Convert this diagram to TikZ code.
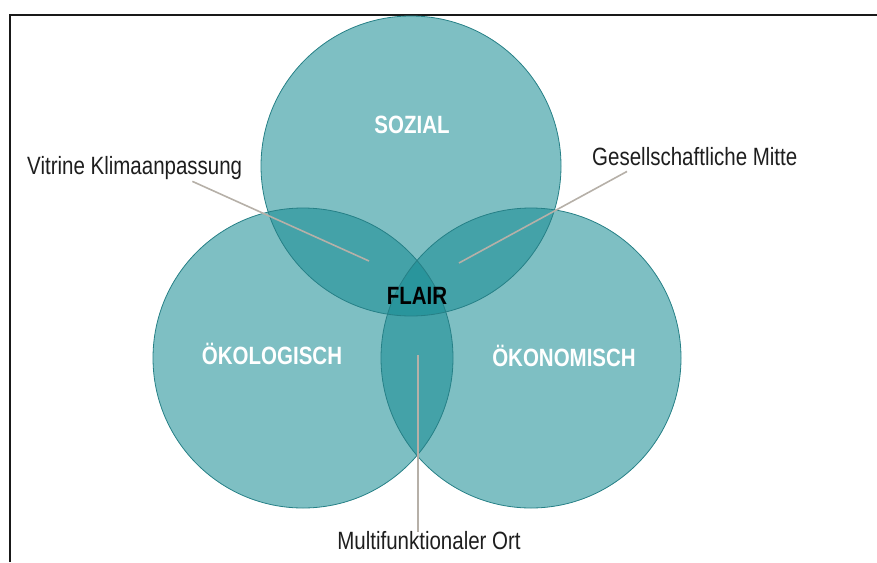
\documentclass[tikz,border=0pt]{standalone}
\usepackage{fontspec}
\setmainfont{Liberation Sans}[FakeStretch=0.82]
\usetikzlibrary{positioning}
\definecolor{vennteal}{RGB}{20,138,146}
\definecolor{vennedge}{RGB}{38,128,134}
\definecolor{leader}{RGB}{182,176,168}
\definecolor{labeltext}{RGB}{30,30,30}

\begin{document}
\begin{tikzpicture}[
    x=1pt, y=-1pt,
    ring/.style={fill=vennteal, fill opacity=0.55},
    ringedge/.style={draw=vennedge, line width=0.8pt},
    pillar/.style={font=\fontsize{25}{25}\selectfont\bfseries, text=white, inner sep=0pt, anchor=base},
    tag/.style={font=\fontsize{25}{25}\selectfont, text=labeltext, inner sep=0pt},
    pointer/.style={draw=leader, line width=1.6pt}
]
\useasboundingbox (0,0) rectangle (877,562);

% frame
\draw[line width=2pt, black!90] (10,562) -- (10,15) -- (877,15);

% circle centres
\coordinate (sozc) at (411,166);
\coordinate (oekoc) at (303,358);
\coordinate (oekonc) at (531,358);

\foreach \c in {sozc, oekoc, oekonc}
    \fill[ring] (\c) circle (150);
\foreach \c in {sozc, oekoc, oekonc}
    \draw[ringedge] (\c) circle (150);

\node[pillar] (sozial) at (412,133) {SOZIAL};
\node[pillar] (oekologisch) at (272,364) {ÖKOLOGISCH};
\node[pillar] (oekonomisch) at (564,366) {ÖKONOMISCH};
\node[pillar, text=black] (flair) at (417,304) {FLAIR};

% labels
\node[tag, anchor=base west] (vitrine) at (27,174) {Vitrine Klimaanpassung};
\node[tag, anchor=base west] (mitte) at (592,165) {Gesellschaftliche Mitte};
\node[tag, anchor=base] (ort) at (429,549) {Multifunktionaler Ort};

\coordinate (vitrineend) at (369,261);
\coordinate (mitteend) at (459,263);
\coordinate (ortend) at (418,355);

\draw[pointer] ([xshift=-50pt, yshift=-2pt]vitrine.south east) -- (vitrineend);
\draw[pointer] ([xshift=35pt, yshift=-6pt]mitte.south west) -- (mitteend);
\draw[pointer] ([xshift=-11pt, yshift=-1pt]ort.north) -- (ortend);

\end{tikzpicture}
\end{document}
